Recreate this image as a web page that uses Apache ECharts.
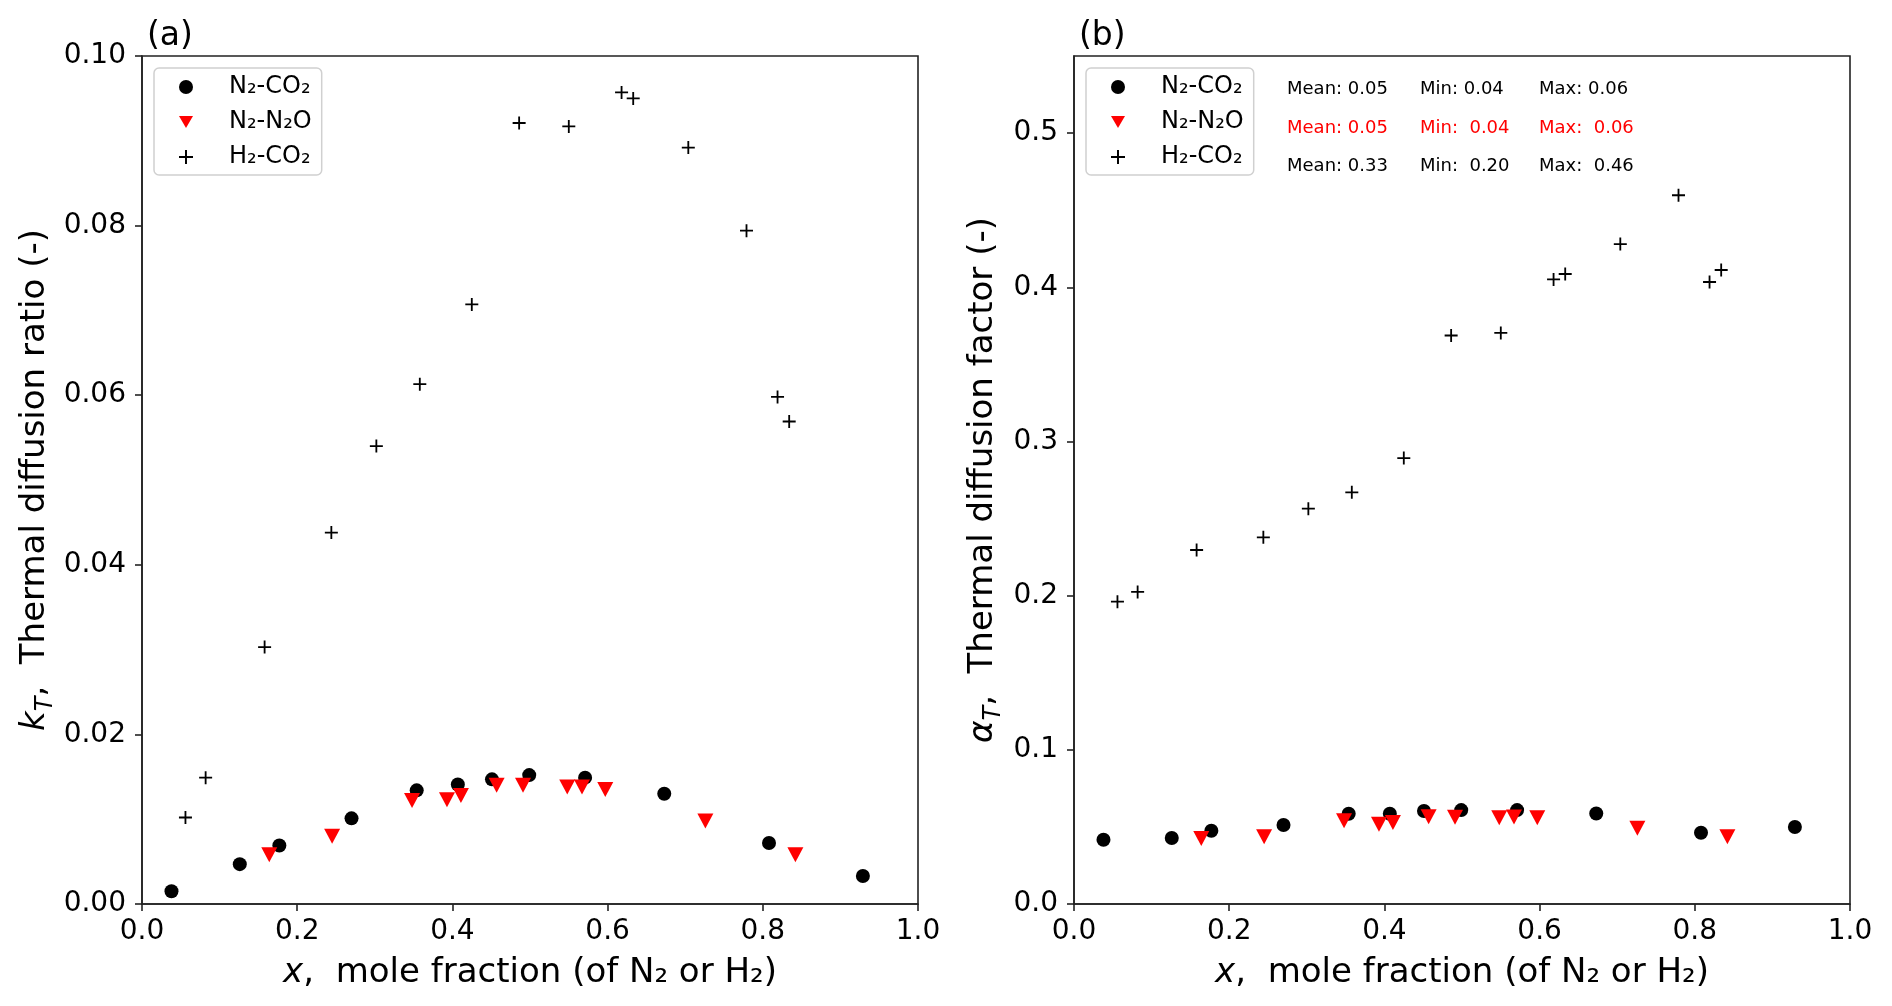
<!DOCTYPE html>
<html>
<head>
<meta charset="utf-8">
<script src="https://cdn.jsdelivr.net/npm/echarts@6/dist/echarts.min.js"></script>
<style>html,body{margin:0;padding:0;background:#fff;}#c{width:1892px;height:1006px;}</style>
</head>
<body>
<div id="c"></div>
<script>
// ---- data ----
const seriesNames = ['N\u2082-CO\u2082', 'N\u2082-N\u2082O', 'H\u2082-CO\u2082'];

const n2co2X  = [0.038, 0.126, 0.177, 0.270, 0.354, 0.407, 0.451, 0.499, 0.571, 0.673, 0.808, 0.929];
const n2co2kT = [0.0015, 0.0047, 0.0069, 0.0101, 0.0134, 0.0141, 0.0147, 0.0152, 0.0149, 0.0130, 0.0072, 0.0033];
const n2co2aT = [0.0417, 0.0428, 0.0475, 0.0512, 0.0585, 0.0585, 0.0603, 0.0609, 0.0609, 0.0587, 0.0462, 0.0499];

const n2n2oX  = [0.164, 0.245, 0.348, 0.393, 0.411, 0.457, 0.491, 0.548, 0.567, 0.597, 0.726, 0.842];
const n2n2okT = [0.0058, 0.0080, 0.0122, 0.0123, 0.0128, 0.0140, 0.0140, 0.0138, 0.0138, 0.0135, 0.0098, 0.0058];
const n2n2oaT = [0.0425, 0.0436, 0.0540, 0.0518, 0.0529, 0.0566, 0.0562, 0.0559, 0.0564, 0.0559, 0.0492, 0.0436];

const h2co2X  = [0.056, 0.082, 0.158, 0.244, 0.302, 0.358, 0.425, 0.486, 0.550, 0.618, 0.633, 0.704, 0.779, 0.819, 0.834];
const h2co2kT = [0.0102, 0.0149, 0.0303, 0.0438, 0.0540, 0.0613, 0.0707, 0.0921, 0.0917, 0.0957, 0.0950, 0.0892, 0.0794, 0.0598, 0.0569];
const h2co2aT = [0.1961, 0.2024, 0.2296, 0.2378, 0.2564, 0.2670, 0.2892, 0.3687, 0.3704, 0.4051, 0.4086, 0.4280, 0.4597, 0.4034, 0.4112];

const xTicks  = [0, 0.2, 0.4, 0.6, 0.8, 1.0];
const kTTicks = [0, 0.02, 0.04, 0.06, 0.08, 0.10];
const aTTicks = [0, 0.1, 0.2, 0.3, 0.4, 0.5];

const statsRows = [
  ['Mean: 0.05', 'Min: 0.04', 'Max: 0.06'],
  ['Mean: 0.05', 'Min:  0.04', 'Max:  0.06'],
  ['Mean: 0.33', 'Min:  0.20', 'Max:  0.46']
];
const statsColors = ['#000000', '#ff0000', '#000000'];
// ---------------------------------------

const FONT = 'DejaVu Sans';
const AX = '#222';
const PLUS = 'path://M4.3,0 L5.7,0 L5.7,4.3 L10,4.3 L10,5.7 L5.7,5.7 L5.7,10 L4.3,10 L4.3,5.7 L0,5.7 L0,4.3 L4.3,4.3 Z';
const TRI_DOWN = 'path://M0,0 L10,0 L5,8.7 Z';

function zip(xs, ys) { return xs.map((x, i) => [x, ys[i]]); }

const G = [
  {left: 142, top: 56, width: 776, height: 848},
  {left: 1074, top: 56, width: 776, height: 848}
];

function xAxisFor(gi) {
  return {
    gridIndex: gi, type: 'value', min: 0, max: 1, interval: 0.2,
    axisLine: {show: true, lineStyle: {color: AX, width: 1.6}},
    axisTick: {show: true, inside: false, length: 7, lineStyle: {color: AX, width: 1.6}, customValues: xTicks},
    axisLabel: {fontSize: 28, fontFamily: FONT, color: '#000', margin: 14, customValues: xTicks,
      formatter: v => v.toFixed(1)},
    splitLine: {show: false},
    name: '{i|x}{n|,  mole fraction (of N\u2082 or H\u2082)}',
    nameLocation: 'middle', nameGap: 52,
    nameTextStyle: {fontSize: 34, fontFamily: FONT, color: '#000',
      rich: {i: {fontSize: 34, fontFamily: FONT, fontStyle: 'italic', color: '#000'},
             n: {fontSize: 34, fontFamily: FONT, color: '#000'}}}
  };
}

function yName(sym, rest) {
  return '{i|' + sym + '}{s|T}{n|' + rest + '}';
}
const yRich = {
  i: {fontSize: 34, fontFamily: FONT, fontStyle: 'italic', color: '#000', verticalAlign: 'top', lineHeight: 40},
  s: {fontSize: 24, fontFamily: FONT, fontStyle: 'italic', color: '#000', verticalAlign: 'top', lineHeight: 28, padding: [16, 0, 0, 0]},
  n: {fontSize: 34, fontFamily: FONT, color: '#000', verticalAlign: 'top', lineHeight: 40}
};

const legendIcons = ['circle', TRI_DOWN, PLUS];

const option = {
  animation: false,
  backgroundColor: '#fff',
  title: [
    {text: '(a)', left: 142, top: 15, textStyle: {fontSize: 33, fontWeight: 'normal', fontFamily: FONT, color: '#000'}},
    {text: '(b)', left: 1074, top: 15, textStyle: {fontSize: 33, fontWeight: 'normal', fontFamily: FONT, color: '#000'}}
  ],
  grid: G.map(g => Object.assign({show: true, borderColor: AX, borderWidth: 1.6, backgroundColor: 'transparent'}, g)),
  xAxis: [xAxisFor(0), xAxisFor(1)],
  yAxis: [
    {
      gridIndex: 0, type: 'value', min: 0, max: 0.1, interval: 0.02,
      axisLine: {show: true, lineStyle: {color: AX, width: 1.6}},
      axisTick: {show: true, inside: false, length: 7, lineStyle: {color: AX, width: 1.6}, customValues: kTTicks},
      axisLabel: {fontSize: 28, fontFamily: FONT, color: '#000', margin: 16, customValues: kTTicks,
        formatter: v => v.toFixed(2)},
      splitLine: {show: false},
      name: yName('k', ',  Thermal diffusion ratio (-)'),
      nameLocation: 'middle', nameGap: 84, nameRotate: 90,
      nameTextStyle: {fontSize: 34, fontFamily: FONT, color: '#000', rich: yRich}
    },
    {
      gridIndex: 1, type: 'value', min: 0, max: 0.55,
      axisLine: {show: true, lineStyle: {color: AX, width: 1.6}},
      axisTick: {show: true, inside: false, length: 7, lineStyle: {color: AX, width: 1.6}, customValues: aTTicks},
      axisLabel: {fontSize: 28, fontFamily: FONT, color: '#000', margin: 16, customValues: aTTicks,
        formatter: v => v.toFixed(1)},
      splitLine: {show: false},
      name: yName('\u03b1', ',  Thermal diffusion factor (-)'),
      nameLocation: 'middle', nameGap: 68, nameRotate: 90,
      nameTextStyle: {fontSize: 34, fontFamily: FONT, color: '#000', rich: yRich}
    }
  ],
  legend: [154, 1086].map(l => ({
    orient: 'vertical', left: l, top: 68,
    padding: [7, 10, 6, 25],
    itemWidth: 14, itemHeight: 14, itemGap: 11,
    backgroundColor: 'rgba(255,255,255,0.8)', borderColor: '#d0d0d0', borderWidth: 1.5, borderRadius: 5,
    textStyle: {fontSize: 24, fontFamily: FONT, color: '#000', lineHeight: 24, padding: [0, 0, 0, 31]},
    selectedMode: false,
    data: seriesNames.map((n, i) => ({name: n, icon: legendIcons[i]}))
  })),
  graphic: statsRows.flatMap((row, r) => row.map((t, c) => ({
    type: 'text', left: [1287, 1420, 1539][c], top: [88, 127, 165][r] - 8,
    style: {text: t, fontSize: 18, fontFamily: FONT, fill: statsColors[r]}
  }))),
  series: []
};

[[n2co2kT, n2n2okT, h2co2kT], [n2co2aT, n2n2oaT, h2co2aT]].forEach((ys, gi) => {
  option.series.push({
    name: seriesNames[0], type: 'scatter', xAxisIndex: gi, yAxisIndex: gi,
    data: zip(n2co2X, ys[0]), symbol: 'circle', symbolSize: 14,
    itemStyle: {color: '#000', opacity: 1}, z: 2
  });
  option.series.push({
    name: seriesNames[1], type: 'scatter', xAxisIndex: gi, yAxisIndex: gi,
    data: zip(n2n2oX, ys[1]), symbol: 'triangle', symbolRotate: 180, symbolSize: [16, 15],
    itemStyle: {color: '#ff0000', opacity: 1}, z: 3
  });
  option.series.push({
    name: seriesNames[2], type: 'scatter', xAxisIndex: gi, yAxisIndex: gi,
    data: zip(h2co2X, ys[2]), symbol: PLUS, symbolSize: 13,
    itemStyle: {color: '#000', opacity: 1}, z: 4
  });
});

const chart = echarts.init(document.getElementById('c'), null, {renderer: 'canvas'});
chart.setOption(option);
</script>
</body>
</html>
